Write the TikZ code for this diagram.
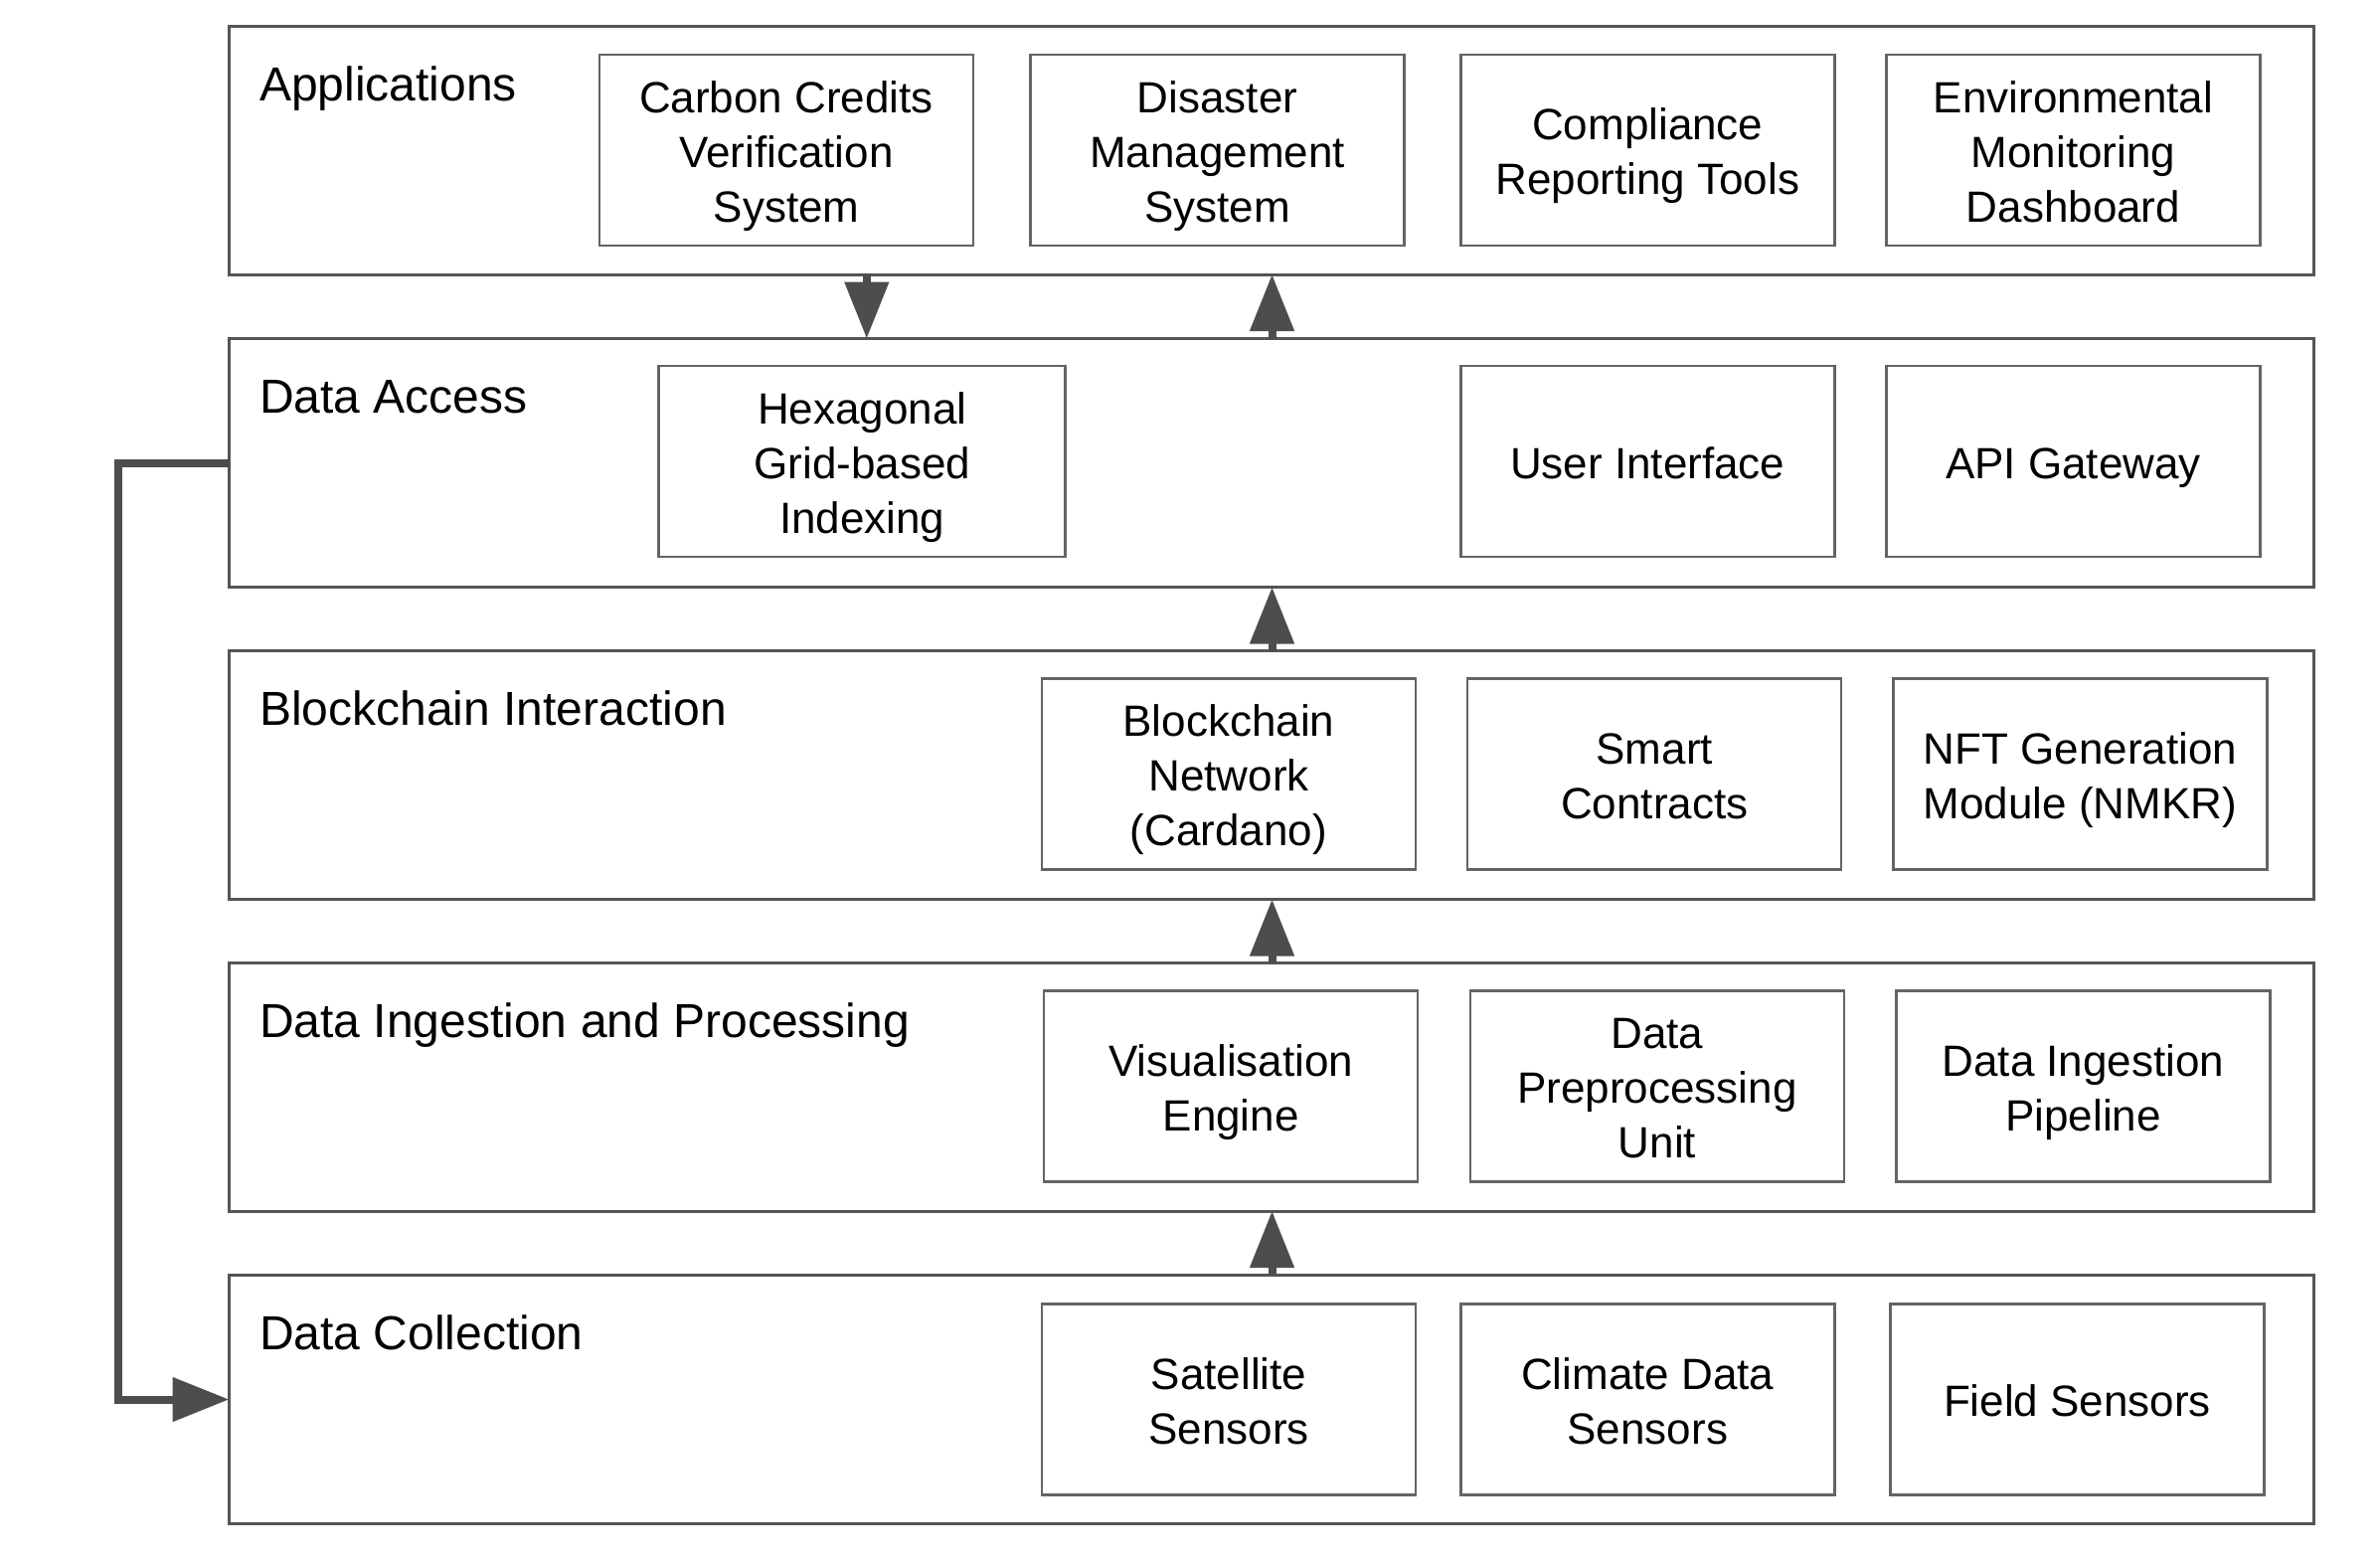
\documentclass[tikz,border=0pt]{standalone}
\usepackage{fontspec}
\setmainfont{Liberation Sans}
\usetikzlibrary{arrows.meta}
\definecolor{layerc}{RGB}{85,85,85}
\definecolor{boxc}{RGB}{100,100,100}
\definecolor{arrc}{RGB}{77,77,77}
\newcommand{\cl}[1]{\smash{#1}\rule{0pt}{34.5pt}}
\begin{document}
\begin{tikzpicture}[x=1pt,y=-1pt,
  layerbox/.style={draw=layerc,line width=3pt,minimum width=2096.5pt,minimum height=250pt,inner sep=0pt,outer sep=0pt},
  layerlabel/.style={anchor=base west,inner sep=0pt,font=\fontsize{48}{60}\selectfont},
  itembox/.style={draw=boxc,line width=2.5pt,minimum width=376pt,minimum height=192pt,inner sep=0pt,outer sep=0pt,align=center,font=\fontsize{44}{55}\selectfont},
  arr/.style={draw=arrc,line width=8pt,-{Triangle[length=57pt,width=43pt]}}
]
\useasboundingbox (0,0) rectangle (2394,1572);
% layers
\node[layerbox] (L1) at (1278.75,151) {};
\node[layerbox] (L2) at (1278.75,465.5) {};
\node[layerbox] (L3) at (1278.75,779.5) {};
\node[layerbox] (L4) at (1278.75,1093) {};
\node[layerbox] (L5) at (1278.75,1407.5) {};
% labels
\node[layerlabel] (t1) at (261,101) {Applications};
\node[layerlabel] (t2) at (261,415) {Data Access};
\node[layerlabel] (t3) at (261,729) {Blockchain Interaction};
\node[layerlabel] (t4) at (261,1043) {Data Ingestion and Processing};
\node[layerlabel] (t5) at (261,1357) {Data Collection};
% row 1
\node[itembox] (a1) at (791,151) {\cl{Carbon Credits}\\\cl{Verification}\\\cl{System}};
\node[itembox] (a2) at (1224.5,151) {\cl{Disaster}\\\cl{Management}\\\cl{System}};
\node[itembox] (a3) at (1657.3,151) {\cl{Compliance}\\\cl{Reporting Tools}};
\node[itembox] (a4) at (2085.5,151) {\cl{Environmental}\\\cl{Monitoring}\\\cl{Dashboard}};
% row 2
\node[itembox,minimum width=409pt] (b1) at (867.2,464) {\cl{Hexagonal}\\\cl{Grid-based}\\\cl{Indexing}};
\node[itembox] (b2) at (1657.3,464) {\cl{User Interface}};
\node[itembox] (b3) at (2085.5,464) {\cl{API Gateway}};
% row 3
\node[itembox] (c1) at (1236,778.7) {\cl{Blockchain}\\\cl{Network}\\\cl{(Cardano)}};
\node[itembox] (c2) at (1664.2,778.7) {\cl{Smart}\\\cl{Contracts}};
\node[itembox] (c3) at (2092.5,778.7) {\cl{NFT Generation}\\\cl{Module (NMKR)}};
% row 4
\node[itembox] (d1) at (1238.2,1092.5) {\cl{Visualisation}\\\cl{Engine}};
\node[itembox] (d2) at (1666.9,1092.5) {\cl{Data}\\\cl{Preprocessing}\\\cl{Unit}};
\node[itembox] (d3) at (2095.5,1092.5) {\cl{Data Ingestion}\\\cl{Pipeline}};
% row 5
\node[itembox] (e1) at (1236,1407.3) {\cl{Satellite}\\\cl{Sensors}};
\node[itembox] (e2) at (1657.3,1407.3) {\cl{Climate Data}\\\cl{Sensors}};
\node[itembox] (e3) at (2089.5,1407.3) {\cl{Field Sensors}};
% connector x positions
\coordinate (ax1) at (871.8,0);
\coordinate (ax2) at (1279.5,0);
\coordinate (cx) at (119,0);
% arrows
\draw[arr] (L1.south -| ax1) -- (L2.north -| ax1);
\draw[arr] (L2.north -| ax2) -- (L1.south -| ax2);
\draw[arr] (L3.north -| ax2) -- (L2.south -| ax2);
\draw[arr] (L4.north -| ax2) -- (L3.south -| ax2);
\draw[arr] (L5.north -| ax2) -- (L4.south -| ax2);
\draw[arr,line join=miter] (L2.west) -- (L2.west -| cx) -- (L5.west -| cx) -- (L5.west);
\end{tikzpicture}
\end{document}
